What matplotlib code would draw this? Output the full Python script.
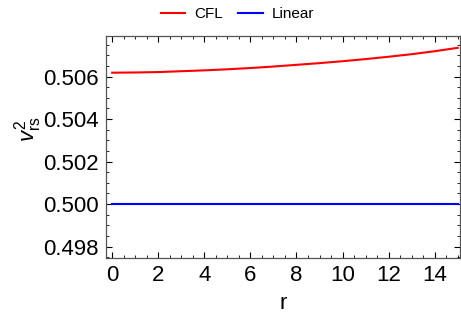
import numpy as np
import matplotlib
matplotlib.use("Agg")
import matplotlib.pyplot as plt
from matplotlib.ticker import MultipleLocator

plt.rcParams["font.family"] = ["Liberation Sans", "DejaVu Sans"]
plt.rcParams["mathtext.fontset"] = "custom"
plt.rcParams["mathtext.rm"] = "Liberation Sans"
plt.rcParams["mathtext.it"] = "Liberation Sans:italic"

# values
r = [0, 1, 2, 3, 4, 5, 6, 7, 8, 9, 10, 11, 12, 13, 14, 15]
v_cfl = [0.50618, 0.50619, 0.50621, 0.50625, 0.50629, 0.50634, 0.50640, 0.50647,
         0.50655, 0.50663, 0.50672, 0.50682, 0.50693, 0.50705, 0.50719, 0.50735]
v_linear = [0.5] * len(r)

fig = plt.figure(figsize=(4.61, 3.21), dpi=100)
ax = fig.add_axes([106 / 461, 63.3 / 321, 354 / 461, 222 / 321])

l1, = ax.plot(r, v_cfl, color="#ff0000", lw=1.5, label="CFL")
l2, = ax.plot(r, v_linear, color="#0000ff", lw=1.5, label="Linear")

ax.set_xlim(-0.27, 15.1)
ax.set_ylim(0.49748, 0.50792)

ax.xaxis.set_major_locator(MultipleLocator(2))
ax.xaxis.set_minor_locator(MultipleLocator(0.5))
ax.yaxis.set_major_locator(MultipleLocator(0.002))
ax.yaxis.set_minor_locator(MultipleLocator(0.0005))
ax.yaxis.set_major_formatter(matplotlib.ticker.FormatStrFormatter("%.3f"))

ax.tick_params(which="both", direction="in", top=True, right=True, color="black")
ax.tick_params(which="major", length=4, width=0.8, labelsize=16, pad=5)
ax.tick_params(which="minor", length=2.2, width=0.6)
for s in ax.spines.values():
    s.set_color("#555555")
    s.set_linewidth(0.9)

ax.set_xlabel("r", fontsize=16, labelpad=5)
ax.set_ylabel(r"$v_{\mathrm{rs}}^{2}$", fontsize=16)
ax.yaxis.set_label_coords(-0.175, 0.58)

fig.legend(handles=[l1, l2], loc="upper center", bbox_to_anchor=(0.515, 1.02), ncol=2,
           frameon=False, fontsize=11, handlelength=1.6, handletextpad=0.6,
           columnspacing=1.0)

plt.savefig("out.png", dpi=100)
